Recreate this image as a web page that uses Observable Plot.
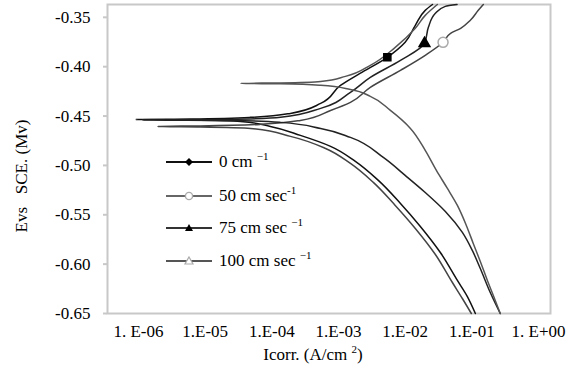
<!DOCTYPE html>
<html>
<head>
<meta charset="utf-8">
<script src="https://cdn.jsdelivr.net/npm/d3@7"></script>
<script src="https://cdn.jsdelivr.net/npm/@observablehq/plot@0.6"></script>
<style>
  body { margin: 0; background: #fff; }
  #wrap { position: relative; width: 572px; height: 370px; font-family: "Liberation Serif", "Times New Roman", Times, "Nimbus Roman", "DejaVu Serif", serif; color: #000; }
  .ttl { position: absolute; white-space: nowrap; font-size: 17px; }
  .leg { position: absolute; left: 166px; font-size: 17px; white-space: nowrap; display: flex; align-items: center; }
  .leg svg { margin-right: 7px; }
  sup { font-size: 11px; vertical-align: 7px; line-height: 0; }
</style>
</head>
<body>
<div id="wrap"></div>
<script>
// ---- data (I in A/cm², E in V vs SCE) ----
const seriesNames = ["0 cm", "50 cm sec", "75 cm sec", "100 cm sec"];

const s0I = [0.113, 0.0857, 0.0607, 0.0337, 0.0169, 8.5e-3, 3.96e-3, 1.79e-3, 7.6e-4, 2.68e-4, 9.5e-5, 3.4e-5, 6.0e-6, 9.0e-7, 6.0e-6, 4.8e-5, 1.9e-4, 5.4e-4, 1.07e-3, 2.1e-3, 5.4e-3, 1.0e-2, 1.42e-2, 2.0e-2, 2.57e-2];
const s0E = [-0.650, -0.6328, -0.6165, -0.5882, -0.5618, -0.5385, -0.5152, -0.4959, -0.4807, -0.4696, -0.4605, -0.4554, -0.4539, -0.4535, -0.4529, -0.4513, -0.4473, -0.4372, -0.4189, -0.4068, -0.3905, -0.3753, -0.3581, -0.3429, -0.337];

const s50I = [0.0983, 0.0721, 0.0511, 0.0284, 0.0142, 7.1e-3, 3.33e-3, 1.51e-3, 6.4e-4, 1.9e-4, 4.8e-5, 8.5e-6, 1.93e-6, 8.5e-6, 6.8e-5, 2.68e-4, 7.6e-4, 1.51e-3, 3.0e-3, 8.5e-3, 2.0e-2, 3.7e-2, 4.8e-2, 6.8e-2, 9.5e-2, 0.125, 0.149];
const s50E = [-0.650, -0.6348, -0.6186, -0.5902, -0.5638, -0.5405, -0.5172, -0.4980, -0.4828, -0.4706, -0.4625, -0.4610, -0.4605, -0.4600, -0.4584, -0.4544, -0.4443, -0.4361, -0.4209, -0.4037, -0.3885, -0.3753, -0.3662, -0.3611, -0.3530, -0.3429, -0.337];

const s75I = [0.267, 0.189, 0.134, 0.1016, 0.0721, 0.0401, 0.0200, 0.0100, 4.7e-3, 1.51e-3, 5.4e-4, 1.35e-4, 2.4e-5, 1.15e-6, 2.4e-5, 1.35e-4, 5.4e-4, 1.51e-3, 3.0e-3, 8.5e-3, 1.95e-2, 2.23e-2, 2.84e-2, 4.0e-2, 6.0e-2];
const s75E = [-0.650, -0.6287, -0.6044, -0.5861, -0.5679, -0.5466, -0.5274, -0.5101, -0.4919, -0.4716, -0.4625, -0.4564, -0.4544, -0.4539, -0.4534, -0.4513, -0.4422, -0.4260, -0.4108, -0.3936, -0.3764, -0.3601, -0.3459, -0.3389, -0.337];

const s100I = [0.267, 0.21, 0.171, 0.134, 0.105, 0.0827, 0.0607, 0.043, 0.0294, 0.0200, 0.012, 6.0e-3, 3.0e-3, 1.51e-3, 5.4e-4, 1.35e-4, 3.4e-5, 1.35e-4, 5.4e-4, 1.27e-3, 3.0e-3, 7.1e-3, 1.42e-2, 2.0e-2, 3.04e-2];
const s100E = [-0.650, -0.6318, -0.6165, -0.5973, -0.5790, -0.5608, -0.5405, -0.5233, -0.5051, -0.4848, -0.4625, -0.4443, -0.4301, -0.4230, -0.4189, -0.4174, -0.4169, -0.4164, -0.4149, -0.4098, -0.3986, -0.3804, -0.3611, -0.3480, -0.337];

// markers drawn on the curves
const markerSeries = ["0 cm", "75 cm sec", "50 cm sec"];
const markerI = [5.4e-3, 1.95e-2, 3.7e-2];
const markerE = [-0.3905, -0.3764, -0.3753];

const xTicks = [1e-6, 1e-5, 1e-4, 1e-3, 1e-2, 1e-1, 1];
const xTickLabels = ["1. E-06", "1.E-05", "1.E-04", "1.E-03", "1.E-02", "1.E-01", "1. E+00"];
const yTicks = [-0.35, -0.40, -0.45, -0.50, -0.55, -0.60, -0.65];

// ---- build table ----
const seriesI = [s0I, s50I, s75I, s100I];
const seriesE = [s0E, s50E, s75E, s100E];
const rows = [];
seriesNames.forEach((name, k) => {
  seriesI[k].forEach((v, i) => rows.push({series: name, I: v, E: seriesE[k][i]}));
});
const markers = markerSeries.map((s, i) => ({series: s, I: markerI[i], E: markerE[i]}));

const strokeOf = {"0 cm": "#111", "50 cm sec": "#444", "75 cm sec": "#222", "100 cm sec": "#555"};
const FONT = "'Liberation Serif', 'Times New Roman', Times, 'Nimbus Roman', 'DejaVu Serif', serif";

const chart = Plot.plot({
  width: 572,
  height: 370,
  marginLeft: 107,
  marginRight: 22,
  marginTop: 4,
  marginBottom: 57,
  style: {fontFamily: FONT, fontSize: "17px", color: "#000", background: "#fff"},
  x: {type: "log", domain: [Math.pow(10, -6.465), Math.pow(10, 0.18)]},
  y: {domain: [-0.65, -0.337]},
  marks: [
    Plot.frame({stroke: "#c8c8c8", strokeWidth: 2}),
    Plot.axisY({ticks: yTicks, tickFormat: d => d.toFixed(2), tickSize: 4, stroke: "#c8c8c8", strokeWidth: 2, tickPadding: 13, label: null}),
    Plot.axisX({ticks: xTicks, tickFormat: d => xTickLabels[xTicks.indexOf(d)], tickSize: 0, tickPadding: 11, label: null}),
    Plot.line(rows, {x: "I", y: "E", z: "series", stroke: d => strokeOf[d.series], strokeWidth: 1.5, curve: "monotone-y"}),
    Plot.dot(markers.filter(d => d.series === "0 cm"), {x: "I", y: "E", symbol: "square", r: 4, fill: "#000", stroke: "#000"}),
    Plot.dot(markers.filter(d => d.series === "75 cm sec"), {x: "I", y: "E", symbol: "triangle", r: 4, fill: "#000", stroke: "#000"}),
    Plot.dot(markers.filter(d => d.series === "50 cm sec"), {x: "I", y: "E", symbol: "circle", r: 5, fill: "#fff", stroke: "#aaa", strokeWidth: 1.5})
  ]
});

const wrap = document.getElementById("wrap");
wrap.appendChild(chart);

// axis titles
const yt = document.createElement("div");
yt.className = "ttl";
yt.style.left = "22px"; yt.style.top = "176px";
yt.style.transform = "translate(-50%,-50%) rotate(-90deg)";
yt.innerHTML = "Evs&nbsp;&nbsp;&nbsp;SCE. (Mv)";
wrap.appendChild(yt);

const xt = document.createElement("div");
xt.className = "ttl";
xt.style.left = "313px"; xt.style.top = "355px";
xt.style.transform = "translate(-50%,-50%)";
xt.innerHTML = "Icorr. (A/cm <sup>2</sup>)";
wrap.appendChild(xt);

// legend
const legendRows = [
  {label: "0 cm <sup>&minus;1</sup>", top: 163, color: "#111", sym: "diamond"},
  {label: "50 cm sec<sup>-1</sup>", top: 197, color: "#666", sym: "circle"},
  {label: "75 cm sec <sup>&minus;1</sup>", top: 229, color: "#333", sym: "triangleFill"},
  {label: "100 cm sec <sup>&minus;1</sup>", top: 262, color: "#555", sym: "triangleOpen"}
];
legendRows.forEach(r => {
  const d = document.createElement("div");
  d.className = "leg";
  d.style.top = (r.top - 11) + "px";
  let m = "";
  if (r.sym === "diamond") m = '<path d="M23 3 L27 7 L23 11 L19 7 Z" fill="#000"/>';
  if (r.sym === "circle") m = '<circle cx="23" cy="7" r="3.6" fill="#fff" stroke="#aaa" stroke-width="1.4"/>';
  if (r.sym === "triangleFill") m = '<path d="M23 3 L27 10 L19 10 Z" fill="#000"/>';
  if (r.sym === "triangleOpen") m = '<path d="M23 3 L27 10 L19 10 Z" fill="#fff" stroke="#aaa" stroke-width="1.2"/>';
  d.innerHTML = '<svg width="46" height="14"><line x1="0" y1="7" x2="46" y2="7" stroke="' + r.color + '" stroke-width="2"/>' + m + '</svg><span>' + r.label + '</span>';
  wrap.appendChild(d);
});
</script>
</body>
</html>
